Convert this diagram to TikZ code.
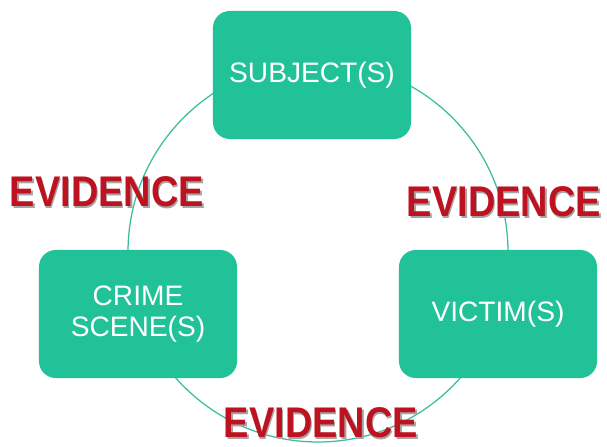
\documentclass[tikz,border=0pt]{standalone}
\usepackage{fontspec}
\setmainfont{Liberation Sans}
\usepackage{graphicx}
\usetikzlibrary{positioning}
\definecolor{boxgreen}{HTML}{21C297}
\definecolor{ringteal}{HTML}{3BBE9E}
\definecolor{evred}{HTML}{BE1220}
\definecolor{evshade}{HTML}{A5A5A5}
\def\bw{4.95cm}
\def\bh{3.2cm}
\tikzset{
    block/.style = {
        rectangle, rounded corners=0.42cm, fill=boxgreen, minimum width=\bw, minimum height=\bh,
        text=white, align=center, font=\fontsize{20}{22}\selectfont
    },
    evtext/.style = {
        inner sep=0pt, text=evred, font=\fontsize{27}{30}\selectfont\bfseries
    },
    evshadow/.style = {
        evtext, text=evshade
    },
    Evidence/.pic = {
        \node [evshadow] at (1.4,-2.0) (-shadow) {\scalebox{1}[1.13]{EVIDENCE}};
        \node [evtext] (-text) {\scalebox{1}[1.13]{EVIDENCE}};
    },
}
\begin{document}
\begin{tikzpicture}[x=0.025cm, y=0.025cm]
    \useasboundingbox (0,0) rectangle (607,447);

    % Ring behind the blocks
    \coordinate (ring) at (318,195);
    \draw[ringteal, line width=0.9pt] (ring) circle[radius=190];

    % Place the blocks
    \node [block] (subject) at (312,372) {SUBJECT(S)};
    \node [block] (crime) at (138,133) {CRIME\\SCENE(S)};
    \node [block] (victim) at (498,133) {VICTIM(S)};

    % Place the labels
    \draw pic (evleft) at (107,255) {Evidence};
    \draw pic (evright) at (504,245) {Evidence};
    \draw pic (evbottom) at (321,24) {Evidence};
\end{tikzpicture}
\end{document}
